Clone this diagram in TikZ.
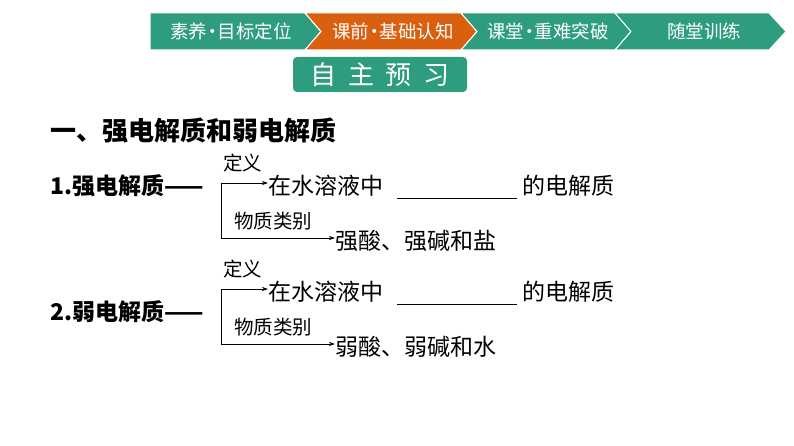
\documentclass[tikz,border=0pt]{standalone}
\usepackage{fontspec}
\setmainfont{Liberation Serif}
\newfontfamily\cjk{Noto Sans CJK SC}
\usetikzlibrary{arrows.meta}
\definecolor{navg}{HTML}{2E9C7E}
\definecolor{navo}{HTML}{D9600F}
\tikzset{
 seg/.style={draw=white,line width=1pt},
 navt/.style={text=white,font=\cjk\fontsize{18.5}{18.5}\selectfont,inner sep=0},
 body/.style={font=\cjk\fontsize{23}{23}\selectfont,inner sep=0,anchor=west},
 bodyb/.style={font=\cjk\bfseries\fontsize{23}{23}\selectfont,inner sep=0,anchor=west},
 headb/.style={font=\cjk\bfseries\fontsize{26}{26}\selectfont,inner sep=0,anchor=west},
 lab/.style={font=\cjk\fontsize{19.5}{19.5}\selectfont,inner sep=0,anchor=west},
 arr/.style={-{Stealth[length=6pt,width=4pt]},line width=0.8pt},
}
\begin{document}
\begin{tikzpicture}[x=1pt,y=-1pt]
\useasboundingbox (0,0) rectangle (794,446);
% nav bar
\fill[navg,seg] (150,13) -- (305,13) -- (321,31.5) -- (305,50) -- (150,50) -- cycle;
\fill[navo,seg] (305,13) -- (461,13) -- (477,31.5) -- (461,50) -- (305,50) -- (321,31.5) -- cycle;
\fill[navg,seg] (461,13) -- (615,13) -- (631,31.5) -- (615,50) -- (461,50) -- (477,31.5) -- cycle;
\fill[navg,seg] (615,13) -- (769,13) -- (786,31.5) -- (769,50) -- (615,50) -- (631,31.5) -- cycle;
\node[navt] (n1) at (231,31.5) {素养\kern-4pt•\kern-4pt目标定位};
\node[navt] (n2) at (393,31.5) {课前\kern-4pt•\kern-4pt基础认知};
\node[navt] (n3) at (548,31.5) {课堂\kern-4pt•\kern-4pt重难突破};
\node[navt] (n4) at (704,31.5) {随堂训练};
\fill[navg,rounded corners=4pt] (293,57) rectangle (467,92);
\node[text=white,font=\cjk\fontsize{26}{26}\selectfont,inner sep=0] (zz) at (380,74.5) {自\ \ 主\ \ 预\ \ 习};
% heading
\node[headb] (h) at (50,131) {一、强电解质和弱电解质};
% block 1
\node[bodyb] (a1) at (50,186) {1.强电解质——};
\coordinate (v1) at (221,183);
\coordinate (w1) at (221,238);
\node[body] (d1) at (268,186) {在水溶液中};
\node[body] (e1) at (522,186) {的电解质};
\node[body] (s1) at (335,241) {强酸、强碱和盐};
\node[lab] (l1) at (223,163) {定义};
\node[lab] (m1) at (234,221) {物质类别};
\draw[line width=0.8pt] (397,198) -- (517,198);
\draw[line width=0.8pt] (v1) -- (w1);
\draw[arr] (v1) -- (d1.west|-v1);
\draw[arr] (w1) -- (s1.west|-w1);
% block 2
\node[bodyb] (a2) at (50,312) {2.弱电解质——};
\coordinate (v2) at (221,289);
\coordinate (w2) at (221,344);
\node[body] (d2) at (268,292) {在水溶液中};
\node[body] (e2) at (522,292) {的电解质};
\node[body] (s2) at (335,347) {弱酸、弱碱和水};
\node[lab] (l2) at (223,269) {定义};
\node[lab] (m2) at (234,327) {物质类别};
\draw[line width=0.8pt] (397,304) -- (517,304);
\draw[line width=0.8pt] (v2) -- (w2);
\draw[arr] (v2) -- (d2.west|-v2);
\draw[arr] (w2) -- (s2.west|-w2);
\end{tikzpicture}
\end{document}
